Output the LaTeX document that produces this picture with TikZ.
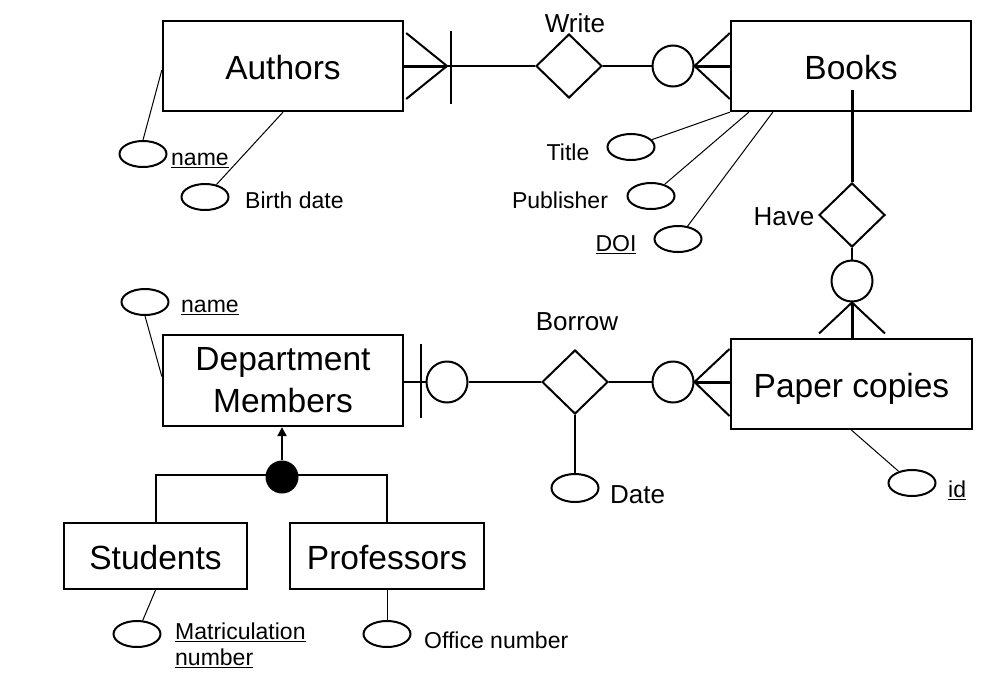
\documentclass[tikz,border=0pt]{standalone}
\usepackage{fontspec}
\setmainfont{Liberation Sans}
\usetikzlibrary{shapes.geometric,arrows.meta,calc}
\begin{document}
\begin{tikzpicture}[x=1pt,y=-1pt,
  ent/.style={draw,line width=2.3pt,inner sep=0,align=center,font=\fontsize{33.5}{42}\selectfont},
  ent1/.style={ent,text height=27pt,text depth=0pt},
  rel/.style={draw,diamond,line width=2pt,inner sep=0,minimum width=66pt,minimum height=64pt},
  opt/.style={draw,circle,line width=2pt,inner sep=0,minimum size=41pt},
  attr/.style={draw,ellipse,line width=2pt,inner sep=0,minimum width=47pt,minimum height=26pt},
  lbl/.style={inner sep=0,font=\fontsize{23}{26}\selectfont},
  rlbl/.style={inner sep=0,font=\fontsize{26}{30}\selectfont},
  conn/.style={line width=2pt},
  heavy/.style={line width=3pt},
  aline/.style={line width=1pt}
]
\useasboundingbox (0,0) rectangle (1006,672);

% entities
\node[ent1,minimum width=240pt,minimum height=90pt] (authors) at (283,66) {Authors};
\node[ent1,minimum width=240pt,minimum height=90pt] (books) at (851,66) {Books};
\node[ent,minimum width=240pt,minimum height=91pt] (dept) at (283,380.5) {Department\\Members};
\node[ent1,minimum width=241pt,minimum height=90pt] (paper) at (851.5,384) {Paper copies};
\node[ent1,minimum width=183pt,minimum height=66pt] (students) at (155.5,556) {Students};
\node[ent1,minimum width=194pt,minimum height=66pt] (profs) at (387,556) {Professors};

% relationships
\node[rel] (write) at (569,66) {};
\node[rel] (have) at (852,215) {};
\node[rel] (borrow) at (575,382) {};

% optionality circles
\node[opt] (wc) at (673,66) {};
\node[opt] (hc) at (852,281) {};
\node[opt] (bc1) at (447,382) {};
\node[opt] (bc2) at (673,382) {};

% attributes
\node[attr] (an) at (143,154) {};
\node[attr] (bd) at (205,197) {};
\node[attr] (title) at (631,147) {};
\node[attr] (pub) at (651,196) {};
\node[attr] (doi) at (678,239) {};
\node[attr] (id) at (912,483) {};
\node[attr] (dn) at (145,302) {};
\node[attr,minimum height=28pt] (date) at (575,488) {};
\node[attr] (mn) at (137,634) {};
\node[attr] (on) at (387,634) {};

% labels
\node[rlbl] (writeL) at (575,23) {Write};
\node[rlbl] (haveL) at (784,217) {Have};
\node[rlbl] (borrowL) at (577,322) {Borrow};
\node[rlbl,anchor=west] (dateL) at (610,495) {Date};
\node[lbl,anchor=west] (anL) at (171,160) {\underline{name}};
\node[lbl,anchor=west] (bdL) at (245,200) {Birth date};
\node[lbl] (titleL) at (568,152) {Title};
\node[lbl] (pubL) at (560,200) {Publisher};
\node[lbl] (doiL) at (616,245) {\underline{DOI}};
\node[lbl,anchor=west] (idL) at (948,490) {\underline{id}};
\node[lbl,anchor=west] (dnL) at (181,307) {\underline{name}};
\node[lbl,anchor=west,align=left] (mnL) at (175,645) {\underline{Matriculation}\\\underline{number}};
\node[lbl,anchor=west] (onL) at (424,640) {Office number};

% Write connectors
\coordinate (af) at (447,66);
\coordinate (abar1) at (451,31);
\coordinate (abar2) at (451,104);
\draw[conn] (authors.east) -- (write.west);
\draw[heavy] (authors.east) -- (af);
\draw[conn] ($(authors.east)+(2,-33)$) -- (af) -- ($(authors.east)+(2,33)$);
\draw[conn] (abar1) -- (abar2);
\draw[conn] (write.east) -- (wc.west);
\draw[heavy] (wc.east) -- (books.west);
\draw[conn] ($(books.west)+(0,-33)$) -- (wc.east) -- ($(books.west)+(0,33)$);

% Have connectors
\coordinate (bin) at (852,90);
\draw[heavy] (bin) -- (have.north);
\draw[conn] (have.south) -- (hc.north);
\draw[heavy] (hc.south) -- (hc.south |- paper.north);
\draw[conn] ($(hc.south)+(-33,31)$) -- (hc.south) -- ($(hc.south)+(33,31)$);

% Borrow connectors
\coordinate (dbar1) at (421,344);
\coordinate (dbar2) at (421,418);
\draw[conn] (bc1.west -| dept.east) -- (bc1.west);
\draw[conn] (dbar1) -- (dbar2);
\draw[conn] (bc1.east) -- (borrow.west);
\draw[conn] (borrow.east) -- (bc2.west);
\draw[heavy] (bc2.east) -- (bc2.east -| paper.west);
\draw[conn] ($(bc2.east)+(35,-33)$) -- (bc2.east) -- ($(bc2.east)+(35,34)$);
\draw[conn] (borrow.south) -- (date.north);

% ISA
\draw[conn] (students.north) |- (282,475) -| (profs.north);
\node[circle,fill=black,inner sep=0,minimum size=33pt] (isa) at (282,477) {};
\draw[conn,-{Triangle[width=9pt,length=9pt]}] (isa.north) -- (isa.north |- dept.south);

% attribute links
\draw[aline] (an.north) -- ([yshift=-4pt]authors.west);
\draw[aline] (bd) -- (authors.south);
\draw[aline] (title) -- (books.south west);
\draw[aline] (pub) -- ([xshift=19pt]books.south west);
\draw[aline] (doi) -- ([xshift=43pt]books.south west);
\draw[aline] (id) -- (paper.south);
\draw[aline] (dn.south) -- ([yshift=4pt]dept.west);
\draw[aline] (mn) -- (students.south);
\draw[aline] (on) -- (profs.south);
\end{tikzpicture}
\end{document}
